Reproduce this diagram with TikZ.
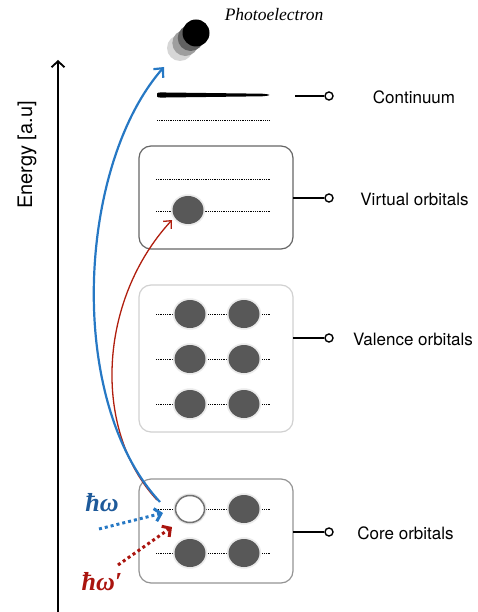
\documentclass[tikz,border=0pt]{standalone}
\usepackage{fontspec}
\setsansfont{TeX Gyre Heros}
\newfontfamily\photofont{Liberation Serif}
\usetikzlibrary{arrows.meta,shapes.geometric}
\definecolor{bluec}{RGB}{38,120,196}
\definecolor{bluelbl}{RGB}{30,90,154}
\definecolor{redc}{RGB}{176,30,14}
\definecolor{redlbl}{RGB}{170,20,14}
\definecolor{orbgray}{RGB}{88,88,88}
\begin{document}
\begin{tikzpicture}[x=1pt,y=-1pt,
  orb/.style={ellipse, fill=orbgray, minimum width=31pt, minimum height=28pt, inner sep=0pt, preaction={draw=black!8,line width=3.5pt}},
  hole/.style={ellipse, fill=white, draw=black!55, line width=1.5pt, minimum width=29pt, minimum height=27pt, inner sep=0pt, preaction={draw=black!10,line width=4pt}},
  level/.style={line width=0.7pt, dash pattern=on 0.9pt off 0.9pt},
  groupbox/.style={rectangle, rounded corners=12pt, fill=white, inner sep=0pt, line width=1.2pt},
  conn/.style={line width=1.4pt},
  knob/.style={circle, draw, line width=1.4pt, fill=white, minimum size=8pt, inner sep=0pt},
  lbl/.style={font=\sffamily\fontsize{17}{20}\selectfont},
  photon/.style={font=\photofont\bfseries\itshape\fontsize{26}{28}\selectfont},
  barb/.style={-{Straight Barb[length=7pt,width=13pt]}},
]
\useasboundingbox (0,0) rectangle (478,612);

% energy axis
\coordinate (ax0) at (58,612);
\coordinate (ax1) at (58,60);
\draw[line width=1.8pt, -{Straight Barb[length=6pt,width=13pt]}] (ax0) -- (ax1);
\node[rotate=90, font=\sffamily\fontsize{20}{24}\selectfont] (elabel) at (27,155) {Energy [a.u]};

% photoelectron
\fill[black!16] (180,48) circle (13);
\fill[black!38] (185.3,43) circle (13);
\fill[black!62] (190.7,38) circle (13);
\fill[black] (196,33) circle (13.5);
\node[font=\photofont\itshape\fontsize{17.5}{20}\selectfont] (pe) at (274,15) {Photoelectron};

% continuum
\fill[black] (157,95) .. controls (157,92.3) .. (166,92.5) -- (262,93.7) .. controls (272,94.5) and (272,95.5) .. (262,96.3) -- (166,97.5) .. controls (157,97.7) .. (157,95) -- cycle;
\draw[level] (157,120) -- (270,120);

% boxes
\node[groupbox, draw=black!60, minimum width=154pt, minimum height=103pt] (vbox) at (216,197.5) {};
\node[groupbox, draw=black!18, minimum width=154pt, minimum height=147pt] (valbox) at (216,358.5) {};
\node[groupbox, draw=black!42, minimum width=154pt, minimum height=104pt] (cbox) at (216,531) {};

% levels
\foreach \y in {179,211,314,359,404,509,553}
  \draw[level] (156,\y) -- (270,\y);

% orbitals
\node[orb] (v1) at (188,210) {};
\node[orb] (a1) at (190,314) {};
\node[orb] (a2) at (244,314) {};
\node[orb] (a3) at (190,359) {};
\node[orb] (a4) at (244,359) {};
\node[orb] (a5) at (190,404) {};
\node[orb] (a6) at (244,404) {};
\node[hole] (h1) at (190,509) {};
\node[orb] (c2) at (244,509) {};
\node[orb] (c3) at (190,553) {};
\node[orb] (c4) at (244,553) {};

% connectors and labels
\node[knob] (k1) at (329,96) {};
\node[knob] (k2) at (329,198) {};
\node[knob] (k3) at (329,338) {};
\node[knob] (k4) at (329,532) {};
\coordinate (cc) at (295,96);
\coordinate (vc) at (293,198);
\coordinate (ac) at (293,338);
\coordinate (coc) at (293,532);
\draw[conn] (cc) -- (k1.west);
\draw[conn] (vc) -- (k2.west);
\draw[conn] (ac) -- (k3.west);
\draw[conn] (coc) -- (k4.west);
\node[lbl] (l1) at (414,97) {Continuum};
\node[lbl] (l2) at (414.5,199) {Virtual orbitals};
\node[lbl] (l3) at (413,339) {Valence orbitals};
\node[lbl] (l4) at (405.5,533) {Core orbitals};

% excitation arrows
\coordinate (rstart) at (157,500);
\coordinate (rtip) at (172,220);
\draw[redc, line width=1.3pt, -{Straight Barb[length=6pt,width=11pt]}] (rstart) .. controls (92,430) and (98,300) .. (rtip);
\coordinate (bstart) at (160,502);
\coordinate (btip) at (164,67);
\draw[bluec, line width=2.2pt, barb] (bstart) .. controls (65,400) and (78,165) .. (btip);

% photon arrows
\coordinate (bp0) at (99,529);
\coordinate (bp1) at (163,513);
\draw[bluec, line width=3pt, dash pattern=on 3pt off 3pt, -{Straight Barb[length=6pt,width=13pt]}] (bp0) -- (bp1);
\coordinate (rp0) at (118,565);
\coordinate (rp1) at (172,527);
\draw[redlbl, line width=3pt, dash pattern=on 3pt off 3pt, -{Straight Barb[length=6pt,width=13pt]}] (rp0) -- (rp1);
\node[photon, text=bluelbl] (hw) at (102,503) {ħω};
\node[photon, text=redlbl] (hw2) at (102,582) {ħω′};
\end{tikzpicture}
\end{document}
